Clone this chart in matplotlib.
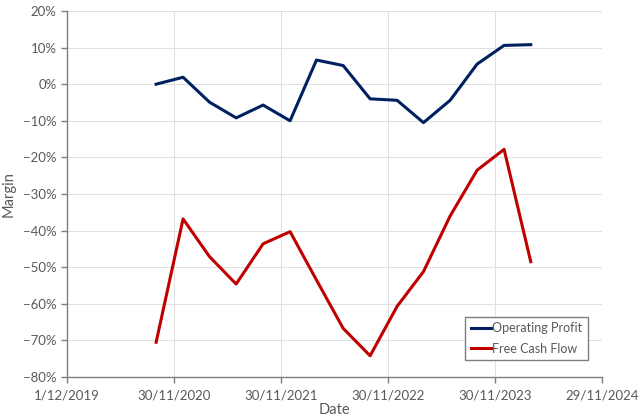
import datetime as dt
import matplotlib
matplotlib.use('Agg')
from matplotlib import pyplot as plt
from matplotlib.ticker import PercentFormatter

# quarter ends, Sep 2020 .. Mar 2024
dates = ['2020-09-30', '2020-12-31', '2021-03-31', '2021-06-30', '2021-09-30',
         '2021-12-31', '2022-03-31', '2022-06-30', '2022-09-30', '2022-12-31',
         '2023-03-31', '2023-06-30', '2023-09-30', '2023-12-31', '2024-03-31']
operating_profit = [0.0, 1.9, -4.9, -9.2, -5.7, -10.0, 6.6, 5.1, -4.0, -4.4,
                    -10.5, -4.4, 5.5, 10.6, 10.8]
free_cash_flow = [-70.5, -36.8, -47.1, -54.6, -43.6, -40.3, -53.5, -66.7, -74.2,
                  -60.7, -51.2, -36.0, -23.5, -17.8, -48.5]

tick_dates = ['2019-12-01', '2020-11-30', '2021-11-30', '2022-11-30', '2023-11-30', '2024-11-29']
tick_labels = ['1/12/2019', '30/11/2020', '30/11/2021', '30/11/2022', '30/11/2023', '29/11/2024']

plt.rcParams['font.family'] = ['Lato', 'DejaVu Sans']

x = [dt.datetime.strptime(d, '%Y-%m-%d') for d in dates]
xt = [dt.datetime.strptime(d, '%Y-%m-%d') for d in tick_dates]

fig = plt.figure(figsize=(6.4, 4.18), dpi=100)
ax = fig.add_axes([67 / 640, 1 - 377 / 418, (602 - 67) / 640, (377 - 11) / 418])

ax.plot(x, operating_profit, color='#002060', lw=2.2, label='Operating Profit')
ax.plot(x, free_cash_flow, color='#C00000', lw=2.2, label='Free Cash Flow')

ax.set_xlim(xt[0], xt[-1])
ax.set_ylim(-80, 20)
ax.set_yticks(range(-80, 21, 10))
ax.yaxis.set_major_formatter(PercentFormatter(decimals=0))
ax.set_xticks(xt)
ax.set_xticklabels(tick_labels)

ax.grid(True, color='#e0e0e0', lw=0.75)
ax.set_axisbelow(True)
for s in ['top', 'right']:
    ax.spines[s].set_visible(False)
for s in ['left', 'bottom']:
    ax.spines[s].set_color('#7f7f7f')
    ax.spines[s].set_linewidth(1)
ax.tick_params(colors='#7f7f7f', labelcolor='#595959', labelsize=9.5, length=4, width=1)
ax.tick_params(axis='x', pad=5)

ax.set_xlabel('Date', color='#595959', fontsize=10.5, labelpad=1)
ax.set_ylabel('Margin', color='#595959', fontsize=10.5, labelpad=5)

leg = ax.legend(loc='lower right', bbox_to_anchor=(0.974, 0.046), borderaxespad=0,
                fontsize=9, handlelength=1.6, handletextpad=0.1, borderpad=0.45,
                labelspacing=0.65, fancybox=False, framealpha=1)
leg.get_frame().set_edgecolor('#7f7f7f')
leg.get_frame().set_linewidth(1)
for t in leg.get_texts():
    t.set_color('#595959')

fig.savefig('out.png', dpi=100)
